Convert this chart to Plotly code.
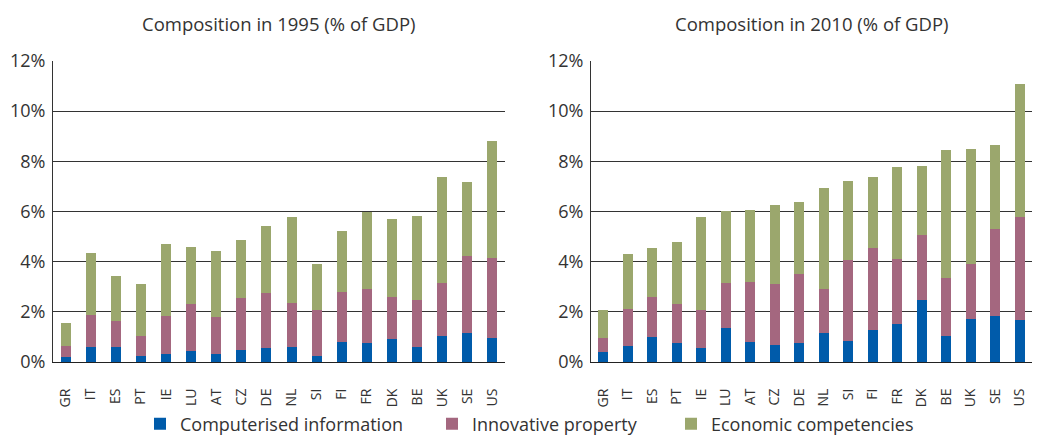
import plotly.graph_objects as go

countries = ["GR", "IT", "ES", "PT", "IE", "LU", "AT", "CZ", "DE",
             "NL", "SI", "FI", "FR", "DK", "BE", "UK", "SE", "US"]

# composition in 1995, % of GDP
comp_1995 = [0.19, 0.58, 0.58, 0.23, 0.30, 0.42, 0.30, 0.46, 0.54,
             0.58, 0.23, 0.78, 0.74, 0.90, 0.58, 1.02, 1.14, 0.94]
innov_1995 = [0.43, 1.31, 1.04, 0.80, 1.55, 1.91, 1.51, 2.11, 2.23,
              1.79, 1.86, 2.03, 2.19, 1.71, 1.91, 2.11, 3.10, 3.22]
econ_1995 = [0.92, 2.47, 1.82, 2.06, 2.87, 2.27, 2.63, 2.30, 2.66,
             3.42, 1.83, 2.42, 3.06, 3.10, 3.34, 4.26, 2.95, 4.67]

# composition in 2010, % of GDP
comp_2010 = [0.38, 0.62, 0.98, 0.74, 0.54, 1.34, 0.78, 0.66, 0.74,
             1.14, 0.82, 1.26, 1.50, 2.49, 1.02, 1.70, 1.85, 1.66]
innov_2010 = [0.56, 1.51, 1.63, 1.59, 1.55, 1.79, 2.39, 2.43, 2.78,
              1.79, 3.26, 3.30, 2.62, 2.58, 2.34, 2.22, 3.46, 4.13]
econ_2010 = [1.15, 2.19, 1.95, 2.46, 3.70, 2.90, 2.90, 3.17, 2.86,
             4.00, 3.13, 2.83, 3.67, 2.76, 5.11, 4.59, 3.36, 5.28]

series_names = ["Computerised information", "Innovative property", "Economic competencies"]
colors = ["#005BAA", "#A4677F", "#9BA76D"]
titles = ["Composition in 1995 (% of GDP)", "Composition in 2010 (% of GDP)"]

FONT = "Open Sans"
TXT = "#333333"
# page has an 8px body margin, so the figure is sized to fit inside it
W, H = 1024, 429

fig = go.Figure()

panels = [
    ("x", "y", [comp_1995, innov_1995, econ_1995]),
    ("x2", "y2", [comp_2010, innov_2010, econ_2010]),
]
legends = ["legend", "legend2", "legend3"]

for p, (xa, ya, data) in enumerate(panels):
    for i, vals in enumerate(data):
        fig.add_trace(go.Bar(
            x=countries, y=vals, name=series_names[i],
            marker=dict(color=colors[i], line=dict(width=0)),
            xaxis=xa, yaxis=ya,
            showlegend=(p == 0), legend=legends[i],
        ))

y_top = 1 - 53 / H
y_bot = 1 - 354 / H
xdoms = [[45 / W, 497 / W], [583 / W, 1.0]]

axis_common = dict(
    type="category", showgrid=False, showline=True, linecolor="#222222", linewidth=1,
    tickangle=-90, tickfont=dict(family=FONT, size=14, color=TXT),
    ticks="", ticklabelstandoff=20, automargin=False,
)
yaxis_common = dict(
    range=[0, 12], dtick=2, ticksuffix="%", showgrid=True, gridcolor="#333333", gridwidth=1,
    showline=True, linecolor="#333333", linewidth=1, zeroline=False,
    tickfont=dict(family=FONT, size=18, color=TXT), ticks="", automargin=False,
    ticklabelstandoff=3, domain=[y_bot, y_top],
)

fig.update_layout(
    width=W, height=H, barmode="stack", bargap=0.6,
    margin=dict(l=0, r=0, t=0, b=0, autoexpand=False),
    paper_bgcolor="white", plot_bgcolor="white",
    font=dict(family=FONT, color=TXT),
    xaxis=dict(domain=xdoms[0], anchor="y", **axis_common),
    xaxis2=dict(domain=xdoms[1], anchor="y2", **axis_common),
    yaxis=dict(anchor="x", **yaxis_common),
    yaxis2=dict(anchor="x2", **yaxis_common),
)

leg_x = [132 / W, 424 / W, 663 / W]
for i, name in enumerate(legends):
    fig.update_layout({name: dict(
        x=leg_x[i], xanchor="left", y=1 - 416 / H, yanchor="middle",
        orientation="h", bgcolor="rgba(0,0,0,0)",
        font=dict(family=FONT, size=18, color=TXT),
    )})

for p, t in enumerate(titles):
    fig.add_annotation(
        text=t, x=sum(xdoms[p]) / 2, y=1 - 16 / H, xref="paper", yref="paper",
        xanchor="center", yanchor="middle", showarrow=False,
        font=dict(family=FONT, size=18.5, color=TXT),
    )

fig.write_html("out.html")
